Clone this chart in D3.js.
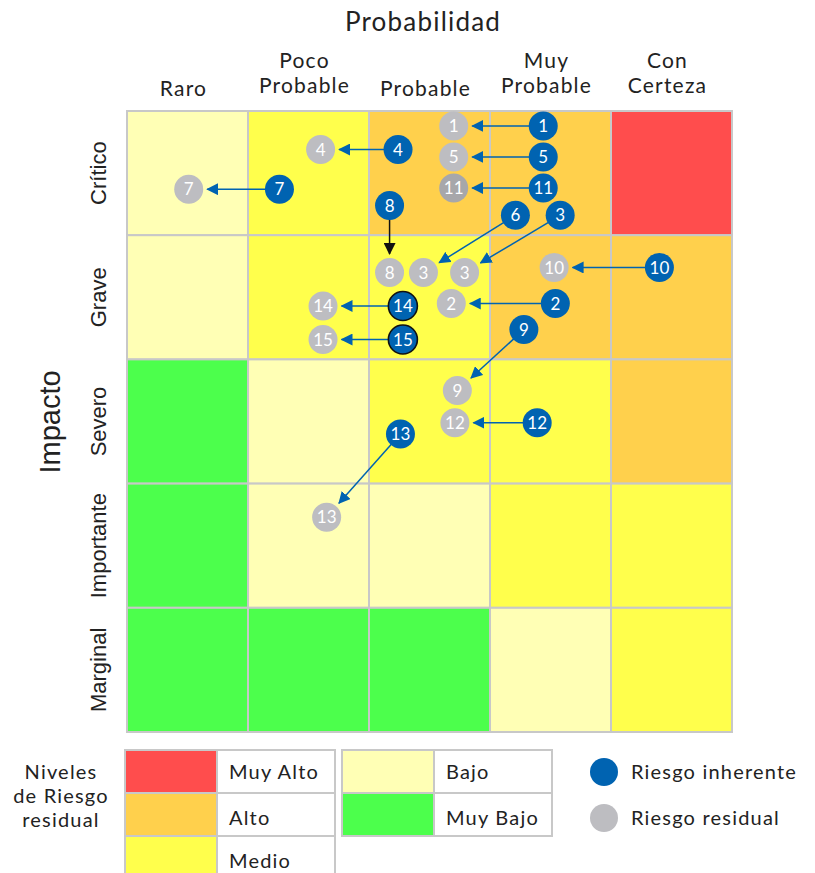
<!DOCTYPE html>
<html>
<head>
<meta charset="utf-8">
<script src="https://cdn.jsdelivr.net/npm/d3@7"></script>
<style>
  body { margin: 0; background: #fff; }
  text { font-family: Lato, "Open Sans", sans-serif; fill: #222; }
  .lbl { letter-spacing: 1.2px; }
</style>
</head>
<body>
<svg id="vis" width="815" height="873"></svg>
<script>
// risk matrix data
const probLabels = [["Raro"], ["Poco", "Probable"], ["Probable"], ["Muy", "Probable"], ["Con", "Certeza"]];
const impactLabels = ["Crítico", "Grave", "Severo", "Importante", "Marginal"];

const levelNames = ["Muy Alto", "Alto", "Medio", "Bajo", "Muy Bajo"];
const levelColors = ["#ff4d4d", "#ffd04c", "#ffff4c", "#ffffb5", "#4cff4c"];

// level of each cell, rows = impact (top to bottom), cols = probability
const levelGrid = [
  ["Bajo", "Medio", "Alto", "Alto", "Muy Alto"],
  ["Bajo", "Medio", "Medio", "Alto", "Alto"],
  ["Muy Bajo", "Bajo", "Medio", "Medio", "Alto"],
  ["Muy Bajo", "Bajo", "Bajo", "Medio", "Medio"],
  ["Muy Bajo", "Muy Bajo", "Muy Bajo", "Bajo", "Medio"]
];

// positions in cell units (x: probability 0-5, y: impact 0-5 from top)
const riskIds      = ["1", "4", "5", "7", "11", "8", "6", "3", "10", "2", "14", "15", "9", "12", "13"];
const inherentX    = [3.44, 2.24, 3.44, 1.26, 3.44, 2.17, 3.21, 3.58, 4.40, 3.54, 2.28, 2.28, 3.28, 3.39, 2.26];
const inherentY    = [0.12, 0.31, 0.37, 0.63, 0.62, 0.76, 0.84, 0.84, 1.26, 1.55, 1.57, 1.84, 1.76, 2.51, 2.60];
const residualLbl  = ["1", "4", "5", "7", "11", "8", "3", "3", "10", "2", "14", "15", "9", "12", "13"];
const residualX    = [2.70, 1.60, 2.70, 0.51, 2.70, 2.17, 2.45, 2.79, 3.53, 2.68, 1.62, 1.62, 2.73, 2.71, 1.65];
const residualY    = [0.12, 0.31, 0.37, 0.63, 0.62, 1.30, 1.30, 1.30, 1.26, 1.55, 1.57, 1.84, 2.25, 2.51, 3.27];
const outlined     = ["14", "15"];
const darkResidual = ["11"];
const blackArrow   = ["8"];

const legendLeft  = ["Muy Alto", "Alto", "Medio"];
const legendRight = ["Bajo", "Muy Bajo"];

const svg = d3.select("#vis");
const blue = "#0063b1";
const grey = "#bdbdc1";

const x = d3.scaleLinear().domain([0, 5]).range([127, 732]);
const y = d3.scaleLinear().domain([0, 5]).range([111, 732]);
const colBand = d3.scaleBand().domain(d3.range(5)).range([127, 732]);
const rowBand = d3.scaleBand().domain(d3.range(5)).range([111, 732]);
const levelColor = d3.scaleOrdinal().domain(levelNames).range(levelColors);

// cells
const cells = [];
levelGrid.forEach((row, r) => row.forEach((lv, c) => cells.push({ r, c, lv })));
svg.append("g").selectAll("rect").data(cells).join("rect")
  .attr("x", d => colBand(d.c))
  .attr("y", d => rowBand(d.r))
  .attr("width", colBand.bandwidth())
  .attr("height", rowBand.bandwidth())
  .attr("fill", d => levelColor(d.lv))
  .attr("stroke", "#c8c8c8")
  .attr("stroke-width", 2);

// title + column labels
svg.append("text").attr("class", "lbl").attr("x", 423).attr("y", 31)
  .attr("text-anchor", "middle").attr("font-size", "26px").text("Probabilidad");

const colG = svg.append("g").selectAll("text").data(probLabels).join("text")
  .attr("class", "lbl")
  .attr("text-anchor", "middle")
  .attr("font-size", "21px")
  .attr("x", (d, i) => colBand(i) + colBand.bandwidth() / 2 - 4)
  .attr("y", d => d.length === 1 ? 96 : 68);
colG.selectAll("tspan").data(d => d).join("tspan")
  .attr("x", function () { return d3.select(this.parentNode).attr("x"); })
  .attr("dy", (d, i) => i === 0 ? 0 : 25)
  .text(d => d);

// row labels
svg.append("g").selectAll("text").data(impactLabels).join("text")
  .attr("transform", (d, i) => `translate(106,${rowBand(i) + rowBand.bandwidth() / 2}) rotate(-90)`)
  .attr("text-anchor", "middle")
  .style("font-family", "'Liberation Sans', Arial, sans-serif")
  .attr("font-size", "22px")
  .text(d => d);

svg.append("text")
  .attr("transform", "translate(60,422) rotate(-90)")
  .attr("text-anchor", "middle")
  .style("font-family", "'Liberation Sans', Arial, sans-serif")
  .attr("font-size", "29px")
  .text("Impacto");

// arrow markers
const defs = svg.append("defs");
[["arrBlue", blue], ["arrBlack", "#111"]].forEach(([id, col]) => {
  defs.append("marker")
    .attr("id", id)
    .attr("viewBox", "0 0 12 12")
    .attr("refX", 11).attr("refY", 6)
    .attr("markerWidth", 12).attr("markerHeight", 12)
    .attr("markerUnits", "userSpaceOnUse")
    .attr("orient", "auto")
    .append("path").attr("d", "M0,0 L12,6 L0,12 Z").attr("fill", col);
});

const risks = riskIds.map((id, i) => ({
  id,
  ix: x(inherentX[i]), iy: y(inherentY[i]),
  rx: x(residualX[i]), ry: y(residualY[i]),
  rl: residualLbl[i]
}));

const R = 14.5;

// arrows
svg.append("g").selectAll("line").data(risks).join("line")
  .each(function (d) {
    const dx = d.rx - d.ix, dy = d.ry - d.iy;
    const len = Math.hypot(dx, dy);
    const k = (len - R - 4) / len;
    d3.select(this)
      .attr("x1", d.ix).attr("y1", d.iy)
      .attr("x2", d.ix + dx * k).attr("y2", d.iy + dy * k);
  })
  .attr("stroke", d => blackArrow.includes(d.id) ? "#111" : blue)
  .attr("stroke-width", 1.5)
  .attr("marker-end", d => blackArrow.includes(d.id) ? "url(#arrBlack)" : "url(#arrBlue)");

// residual circles
const resG = svg.append("g").selectAll("g").data(risks).join("g")
  .attr("transform", d => `translate(${d.rx},${d.ry})`);
resG.append("circle").attr("r", R)
  .attr("fill", d => darkResidual.includes(d.id) ? "#a7a7aa" : grey);
resG.append("text").attr("text-anchor", "middle").attr("dy", "0.36em")
  .attr("font-size", "17px").style("fill", "#fff").text(d => d.rl);

// inherent circles
const inhG = svg.append("g").selectAll("g").data(risks).join("g")
  .attr("transform", d => `translate(${d.ix},${d.iy})`);
inhG.append("circle").attr("r", R)
  .attr("fill", blue)
  .attr("stroke", d => outlined.includes(d.id) ? "#111" : "none")
  .attr("stroke-width", 1.6);
inhG.append("text").attr("text-anchor", "middle").attr("dy", "0.36em")
  .attr("font-size", "17px").style("fill", "#fff").text(d => d.id);

// legend
const lg = svg.append("g");
lg.append("text").attr("class", "lbl").attr("text-anchor", "middle").attr("font-size", "20px")
  .selectAll("tspan").data(["Niveles", "de Riesgo", "residual"]).join("tspan")
  .attr("x", 61).attr("y", (d, i) => 779 + i * 24).text(d => d);

function legendTable(items, x0) {
  const rowH = 43;
  const g = lg.append("g");
  items.forEach((name, i) => {
    const y0 = 750 + i * rowH;
    g.append("rect").attr("x", x0).attr("y", y0).attr("width", 92).attr("height", rowH)
      .attr("fill", levelColor(name)).attr("stroke", "#c8c8c8").attr("stroke-width", 2);
    g.append("rect").attr("x", x0 + 92).attr("y", y0).attr("width", 118).attr("height", rowH)
      .attr("fill", "#fff").attr("stroke", "#c8c8c8").attr("stroke-width", 2);
    g.append("text").attr("class", "lbl").attr("x", x0 + 104).attr("y", y0 + (i === 0 ? 29 : 32))
      .attr("font-size", "20px").text(name);
  });
}
legendTable(legendLeft, 125);
legendTable(legendRight, 342);

[["Riesgo inherente", blue, 772], ["Riesgo residual", grey, 818]].forEach(([t, c, cy]) => {
  lg.append("circle").attr("cx", 604).attr("cy", cy).attr("r", 14).attr("fill", c);
  lg.append("text").attr("class", "lbl").attr("x", 631).attr("y", cy + 7).attr("font-size", "20px").text(t);
});
</script>
</body>
</html>
